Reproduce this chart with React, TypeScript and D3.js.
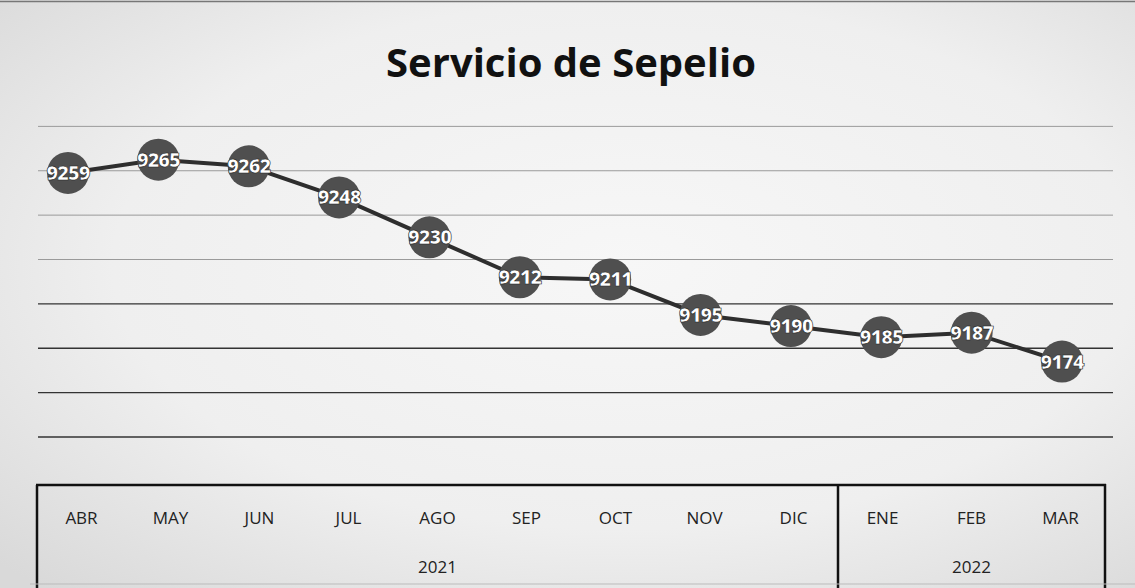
import * as d3 from "d3";
import { useMemo } from "react";

const months = ["ABR", "MAY", "JUN", "JUL", "AGO", "SEP", "OCT", "NOV", "DIC", "ENE", "FEB", "MAR"];
const monthYears = ["2021", "2021", "2021", "2021", "2021", "2021", "2021", "2021", "2021", "2022", "2022", "2022"];
const values = [9259, 9265, 9262, 9248, 9230, 9212, 9211, 9195, 9190, 9185, 9187, 9174];
const years = ["2021", "2022"];

const width = 1135;
const height = 588;
const font = "'Open Sans', 'Liberation Sans', sans-serif";

export default function App() {
  const x = useMemo(() => d3.scalePoint().domain(months).range([68, 1062]), []);
  const band = useMemo(() => d3.scaleBand().domain(months).range([37, 1105]), []);
  const y = useMemo(() => d3.scaleLinear().domain([9140, 9300]).range([437, 82]), []);

  const line = d3
    .line<number>()
    .x((_, i) => x(months[i]) ?? 0)
    .y((v) => y(v));

  const grid = y.ticks(8).filter((t) => t < 9300);

  const groups = years.map((year) => {
    const idx = monthYears.map((yy, i) => (yy === year ? i : -1)).filter((i) => i >= 0);
    const x0 = band(months[idx[0]]) ?? 0;
    const x1 = (band(months[idx[idx.length - 1]]) ?? 0) + band.bandwidth();
    return { year, x0, x1 };
  });

  return (
    <svg
      width={width}
      height={height}
      style={{ position: "absolute", left: 0, top: 0 }}
      fontFamily={font}
    >
      <defs>
        <radialGradient id="paper" cx="55%" cy="45%" r="75%">
          <stop offset="0%" stopColor="#f7f7f7" />
          <stop offset="60%" stopColor="#efefef" />
          <stop offset="100%" stopColor="#d9d9d9" />
        </radialGradient>
      </defs>
      <rect width={width} height={height} fill="url(#paper)" />
      <line x1={0} x2={width} y1={1.5} y2={1.5} stroke="#777" strokeWidth={1.5} />

      <text x={571} y={77} textAnchor="middle" fontSize={40} fontWeight="bold" fill="#111">
        Servicio de Sepelio
      </text>

      {grid.map((t) => (
        <line
          key={t}
          x1={38}
          x2={1113}
          y1={y(t)}
          y2={y(t)}
          stroke={t >= 9220 ? "#9a9a9a" : "#333"}
          strokeWidth={t >= 9220 ? 1 : 1.3}
        />
      ))}

      <path d={line(values) ?? ""} fill="none" stroke="#2e2e2e" strokeWidth={4} />

      {values.map((v, i) => (
        <g key={months[i]} transform={`translate(${x(months[i])},${y(v)})`}>
          <circle r={21} fill="#4f4f4f" />
          <text
            textAnchor="middle"
            dy="0.35em"
            fontSize={20}
            fontWeight={800}
            fill="#fff"
            stroke="#222"
            strokeWidth={0.6}
            letterSpacing={-1}
          >
            {v}
          </text>
        </g>
      ))}

      {/* category table */}
      <line x1={36} x2={1106} y1={485} y2={485} stroke="#111" strokeWidth={2.5} />
      <line x1={37} x2={37} y1={485} y2={588} stroke="#111" strokeWidth={2.5} />
      {groups.map((g) => (
        <line key={g.year} x1={g.x1} x2={g.x1} y1={484} y2={588} stroke="#111" strokeWidth={2.5} />
      ))}
      {months.map((m) => (
        <text
          key={m}
          x={(band(m) ?? 0) + band.bandwidth() / 2}
          y={524}
          textAnchor="middle"
          fontSize={17}
          fill="#222"
        >
          {m}
        </text>
      ))}
      {groups.map((g) => (
        <text key={g.year} x={(g.x0 + g.x1) / 2} y={573} textAnchor="middle" fontSize={17} fill="#222">
          {g.year}
        </text>
      ))}
      <line x1={30} x2={width} y1={584} y2={584} stroke="#bbb" strokeWidth={1} />
    </svg>
  );
}
